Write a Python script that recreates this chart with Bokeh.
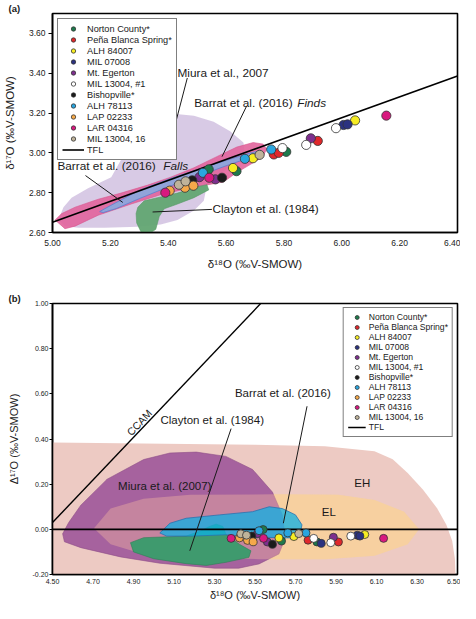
from bokeh.plotting import figure
from bokeh.models import (Range1d, FixedTicker, NumeralTickFormatter, Label,
                          Legend, LegendItem, Title)
from bokeh.layouts import column
from bokeh.embed import file_html
from bokeh.resources import INLINE

FONT = "Liberation Sans"

# ---------------- samples ----------------
sample_names = ["Norton County*", "Peña Blanca Spring*", "ALH 84007", "MIL 07008",
                "Mt. Egerton", "MIL 13004, #1", "Bishopville*", "ALH 78113",
                "LAP 02233", "LAR 04316", "MIL 13004, 16"]
sample_colors = ["#1e7a4c", "#e0282b", "#f6ec23", "#2b3280", "#7e2f8e", "#ffffff",
                 "#1b1b1b", "#2aa5de", "#f5a94a", "#d8197f", "#bfb39a"]

# ---------------- panel (a): d17O vs d18O ----------------
a_sample = [0, 0, 0, 1, 1, 1, 2, 2, 2, 3, 3, 4, 4, 4, 5, 5, 5, 6, 6,
            7, 7, 7, 8, 8, 8, 9, 9, 9, 10, 10, 10]
a_d18O = [5.540, 5.636, 5.808, 5.765, 5.782, 5.917, 5.624, 5.693, 6.046,
          6.006, 6.020, 5.508, 5.563, 5.893, 5.795, 5.877, 5.980, 5.483, 5.586,
          5.520, 5.665, 5.756, 5.405, 5.458, 5.487, 5.390, 5.542, 6.154,
          5.437, 5.460, 5.716]
a_d17O = [2.917, 2.908, 3.005, 2.992, 3.000, 3.060, 2.924, 2.973, 3.163,
          3.140, 3.143, 2.878, 2.867, 3.073, 3.024, 3.040, 3.124, 2.862, 2.875,
          2.900, 2.970, 3.017, 2.810, 2.825, 2.835, 2.800, 2.875, 3.187,
          2.840, 2.857, 2.990]
a_x_ticks = [5.0, 5.2, 5.4, 5.6, 5.8, 6.0, 6.2, 6.4]
a_y_ticks = [2.6, 2.8, 3.0, 3.2, 3.4, 3.6]
a_tfl_x = [5.0, 6.4]
a_tfl_y = [2.652, 3.386]

a_miura_x = [5.020, 5.038, 5.066, 5.123, 5.203, 5.237, 5.260, 5.295, 5.340, 5.410,
             5.489, 5.557, 5.614, 5.660, 5.665, 5.637, 5.568, 5.534, 5.523, 5.489,
             5.432, 5.374, 5.295, 5.180, 5.090, 5.043]
a_miura_y = [2.663, 2.727, 2.775, 2.822, 2.878, 2.965, 3.060, 3.140, 3.187, 3.198,
             3.187, 3.156, 3.108, 3.052, 2.997, 2.949, 2.886, 2.838, 2.759, 2.711,
             2.663, 2.640, 2.629, 2.624, 2.624, 2.632]
a_finds_x = [5.009, 5.043, 5.078, 5.158, 5.272, 5.374, 5.480, 5.591, 5.637, 5.683,
             5.728, 5.740, 5.728, 5.694, 5.637, 5.568, 5.489, 5.409, 5.329, 5.237,
             5.158, 5.078, 5.032]
a_finds_y = [2.663, 2.619, 2.632, 2.687, 2.743, 2.790, 2.825, 2.854, 2.901, 2.941,
             2.981, 3.020, 3.044, 3.052, 3.029, 2.981, 2.925, 2.878, 2.838, 2.798,
             2.767, 2.727, 2.695]
a_falls_x = [5.163, 5.200, 5.300, 5.410, 5.520, 5.600, 5.680, 5.720, 5.725, 5.680,
             5.600, 5.520, 5.410, 5.300, 5.220, 5.175]
a_falls_y = [2.705, 2.735, 2.812, 2.872, 2.925, 2.962, 2.998, 3.012, 3.000, 2.975,
             2.935, 2.892, 2.835, 2.770, 2.720, 2.700]
a_clayton_x = [5.295, 5.317, 5.363, 5.432, 5.500, 5.534, 5.540, 5.489, 5.432, 5.386,
               5.369, 5.357, 5.340, 5.306, 5.291, 5.289]
a_clayton_y = [2.727, 2.759, 2.775, 2.798, 2.830, 2.840, 2.814, 2.775, 2.743, 2.719,
               2.680, 2.616, 2.600, 2.603, 2.648, 2.695]

# ---------------- panel (b): D17O vs d18O ----------------
b_sample = [0, 0, 0, 1, 1, 2, 2, 2, 3, 3, 3, 4, 4, 4, 5, 5, 5, 6, 6,
            7, 7, 7, 8, 8, 8, 9, 9, 9, 10, 10, 10]
b_d18O = [5.540, 5.631, 5.806, 5.762, 5.912, 5.618, 5.692, 6.042,
          5.827, 6.005, 6.018, 5.512, 5.561, 5.887, 5.790, 5.874, 5.973, 5.484, 5.586,
          5.520, 5.662, 5.752, 5.423, 5.463, 5.491, 5.382, 5.542, 6.135,
          5.430, 5.458, 5.716]
b_D17O = [-0.001, -0.052, -0.056, -0.048, -0.056, -0.038, -0.032, -0.023,
          -0.062, -0.026, -0.030, -0.019, -0.056, -0.035, -0.040, -0.059, -0.030,
          -0.030, -0.066, -0.006, -0.016, -0.016, -0.038, -0.049, -0.055,
          -0.040, -0.040, -0.040, -0.020, -0.026, -0.019]
b_x_ticks = [4.5, 4.7, 4.9, 5.1, 5.3, 5.5, 5.7, 5.9, 6.1, 6.3, 6.5]
b_y_ticks = [-0.2, 0.0, 0.2, 0.4, 0.6, 0.8, 1.0]
b_tfl_x = [4.5, 6.5]
b_tfl_y = [0.0, 0.0]
b_ccam_x = [4.5, 5.528]
b_ccam_y = [0.03, 1.0]

b_eh_x = [4.50, 5.50, 5.845, 6.09, 6.18, 6.254, 6.33, 6.40, 6.445, 6.474, 6.487, 6.49, 4.50]
b_eh_y = [0.384, 0.375, 0.368, 0.346, 0.31, 0.25, 0.175, 0.092, 0.02, -0.052, -0.13, -0.2, -0.2]
b_el_x = [4.705, 4.787, 4.95, 5.18, 5.60, 5.91, 6.09, 6.236, 6.31, 6.254, 6.09, 5.845,
          5.52, 5.20, 4.95, 4.787]
b_el_y = [0.005, 0.092, 0.135, 0.153, 0.155, 0.153, 0.13, 0.078, 0.0, -0.066, -0.117,
          -0.132, -0.132, -0.125, -0.11, -0.066]
b_miura_x = [4.550, 4.580, 4.640, 4.770, 4.950, 5.080, 5.210, 5.356, 5.488, 5.586,
             5.635, 5.650, 5.618, 5.520, 5.420, 5.300, 5.030, 4.836, 4.640, 4.559]
b_miura_y = [-0.020, 0.030, 0.107, 0.222, 0.309, 0.338, 0.342, 0.323, 0.265, 0.165,
             0.064, -0.038, -0.109, -0.153, -0.172, -0.172, -0.150, -0.122, -0.081, -0.055]
b_clayton_x = [4.885, 4.950, 5.160, 5.227, 5.276, 5.308, 5.341, 5.357, 5.423, 5.480,
               5.470, 5.357, 5.260, 5.160, 4.999, 4.900]
b_clayton_y = [-0.059, -0.037, -0.030, -0.009, 0.013, 0.023, 0.013, -0.023, -0.066,
               -0.095, -0.124, -0.146, -0.160, -0.152, -0.130, -0.100]
b_barrat_x = [5.030, 5.080, 5.160, 5.325, 5.488, 5.570, 5.635, 5.700, 5.732, 5.724,
              5.683, 5.520, 5.357, 5.194, 5.064]
b_barrat_y = [-0.016, 0.027, 0.049, 0.064, 0.078, 0.100, 0.092, 0.064, 0.020, -0.016,
              -0.038, -0.035, -0.024, -0.030, -0.030]


def style(p, xticks, yticks, tick_size, title_size, tick_out, label_st, title_st_x, title_st_y):
    p.xgrid.visible = False
    p.ygrid.visible = False
    p.outline_line_color = "black"
    p.outline_line_width = 1.6
    p.background_fill_color = "white"
    p.border_fill_color = "white"
    for ax, ticks in ((p.xaxis[0], xticks), (p.yaxis[0], yticks)):
        ax.ticker = FixedTicker(ticks=ticks)
        ax.formatter = NumeralTickFormatter(format="0.00")
        ax.minor_tick_line_color = None
        ax.major_tick_in = 0
        ax.major_tick_out = tick_out
        ax.major_tick_line_color = "black"
        ax.axis_line_color = "black"
        ax.axis_line_width = 1.6
        ax.major_label_text_font = FONT
        ax.major_label_text_font_size = tick_size
        ax.major_label_text_color = "#222222"
        ax.major_label_standoff = label_st
        ax.axis_label_text_font = FONT
        ax.axis_label_text_font_size = title_size
        ax.axis_label_text_font_style = "normal"
        ax.axis_label_text_color = "#222222"
    # x axis: labels only, no visible tick marks
    p.xaxis[0].major_tick_out = 0
    p.xaxis[0].major_label_standoff = label_st + tick_out
    p.xaxis[0].axis_label_standoff = title_st_x
    p.yaxis[0].axis_label_standoff = title_st_y


def add_points(p, xs, ys, idx, radius):
    rends = []
    for i, name in enumerate(sample_names):
        sx = [x for x, k in zip(xs, idx) if k == i]
        sy = [y for y, k in zip(ys, idx) if k == i]
        r = p.circle(sx, sy, radius=radius, radius_units="screen",
                     fill_color=sample_colors[i], line_color="#333333", line_width=0.8)
        rends.append(r)
    return rends


def txt(p, x, y, s, size, style="normal", **kw):
    p.add_layout(Label(x=x, y=y, text=s, text_font=FONT, text_font_size=size,
                       text_font_style=style, text_baseline="middle",
                       text_color="#1a1a1a", **kw))


def make_legend(p, rends, tfl, loc, font_size, margin, gw, gh, pad):
    items = [LegendItem(label=n, renderers=[r]) for n, r in zip(sample_names, rends)]
    items.append(LegendItem(label="TFL", renderers=[tfl]))
    lg = Legend(items=items, location=loc, margin=margin, padding=pad, spacing=0,
                glyph_height=gh, glyph_width=gw, label_height=gh,
                label_standoff=3, label_text_font=FONT, label_text_font_size=font_size,
                label_text_color="#1a1a1a", border_line_color="black",
                border_line_width=1.8, background_fill_alpha=1.0,
                background_fill_color="white")
    p.add_layout(lg)


def panel_title(p, s):
    p.title = Title(text=s, align="left", offset=-44, standoff=0,
                    text_font=FONT, text_font_size="9.5px", text_font_style="bold",
                    text_color="#1a1a1a")


# ================= panel (a) =================
p1 = figure(width=460, height=290, x_range=Range1d(5.0, 6.4), y_range=Range1d(2.6, 3.7),
            output_backend="svg", toolbar_location=None,
            min_border_left=46, min_border_right=3, min_border_top=0, min_border_bottom=58,
            x_axis_label="δ¹⁸O (‰V-SMOW)", y_axis_label="δ¹⁷O (‰V-SMOW)")
style(p1, a_x_ticks, a_y_ticks, "8.5px", "11.5px", 4, 3, 9, 10)
panel_title(p1, "(a)")

p1.patch(a_miura_x, a_miura_y, fill_color="#d6c7e4", fill_alpha=0.95, line_color=None)
p1.patch(a_finds_x, a_finds_y, fill_color="#e2649c", fill_alpha=0.9, line_color="#d9588f",
         line_width=0.6)
p1.patch(a_falls_x, a_falls_y, fill_color="#8aa8de", fill_alpha=0.92, line_color="#5b7fcf",
         line_width=0.8)
p1.patch(a_clayton_x, a_clayton_y, fill_color="#62a572", fill_alpha=0.95, line_color="#579a66",
         line_width=0.6)
tfl1 = p1.line(a_tfl_x, a_tfl_y, line_color="black", line_width=1.6)
r1 = add_points(p1, a_d18O, a_d17O, a_sample, 4.6)

# leader lines
p1.segment(x0=[5.466, 5.671, 5.114, 5.346], y0=[3.376, 3.235, 2.886, 2.703],
           x1=[5.425, 5.586, 5.243, 5.551], y1=[3.148, 2.981, 2.751, 2.716],
           line_color="#1a1a1a", line_width=1)
txt(p1, 5.432, 3.400, "Miura et al., 2007", "11.8px")
txt(p1, 5.490, 3.251, "Barrat et al. (2016)", "11.8px")
txt(p1, 5.846, 3.251, "Finds", "11.8px", "italic")
txt(p1, 5.017, 2.935, "Barrat et al. (2016)", "11.8px")
txt(p1, 5.383, 2.935, "Falls", "11.8px", "italic")
txt(p1, 5.553, 2.716, "Clayton et al. (1984)", "11.8px")
make_legend(p1, r1, tfl1, "top_left", "9.2px", 5, 22, 11, 4)

# ================= panel (b) =================
p2 = figure(width=460, height=313, x_range=Range1d(4.5, 6.5), y_range=Range1d(-0.2, 1.0),
            output_backend="svg", toolbar_location=None,
            min_border_left=50, min_border_right=1, min_border_top=0, min_border_bottom=27,
            x_axis_label="δ¹⁸O (‰V-SMOW)", y_axis_label="Δ¹⁷O (‰V-SMOW)")
style(p2, b_x_ticks, b_y_ticks, "7px", "11px", 3, 1, 2, 10)
panel_title(p2, "(b)")

p2.patch(b_eh_x, b_eh_y, fill_color="#edcac3", fill_alpha=1.0, line_color=None)
p2.patch(b_el_x, b_el_y, fill_color="#f3d6a0", fill_alpha=1.0, line_color=None)
p2.patch(b_miura_x, b_miura_y, fill_color="#a6629e", fill_alpha=1.0, line_color="#8e4f88",
         line_width=0.6)
p2.patch(b_el_x, b_el_y, fill_color="#ffc7a0", fill_alpha=0.35, line_color=None)
p2.patch(b_clayton_x, b_clayton_y, fill_color="#3f9a6e", fill_alpha=1.0, line_color="#2f7f58",
         line_width=0.6)
p2.patch(b_barrat_x, b_barrat_y, fill_color="#0cb0e4", fill_alpha=0.75, line_color="#2a72b0",
         line_width=0.8)
ccam = p2.line(b_ccam_x, b_ccam_y, line_color="black", line_width=1.4)
tfl2 = p2.line(b_tfl_x, b_tfl_y, line_color="black", line_width=1.6)
r2 = add_points(p2, b_d18O, b_D17O, b_sample, 4.0)

p2.segment(x0=[5.382, 5.757], y0=[0.446, 0.545], x1=[5.178, 5.640], y1=[-0.095, 0.027],
           line_color="#1a1a1a", line_width=1)
txt(p2, 4.824, 0.190, "Miura et al. (2007)", "11.5px")
txt(p2, 5.033, 0.485, "Clayton et al. (1984)", "11.5px")
txt(p2, 5.401, 0.602, "Barrat et al. (2016)", "11.5px")
txt(p2, 5.990, 0.205, "EH", "11.5px")
txt(p2, 5.830, 0.075, "EL", "11.5px")
p2.add_layout(Label(x=4.95, y=0.455, text="CCAM", angle=46.8, angle_units="deg",
                    text_font=FONT, text_font_size="10.5px", text_align="center",
                    text_baseline="bottom", text_color="#1a1a1a"))
make_legend(p2, r2, tfl2, "top_right", "8.6px", 4, 18, 10, 4)

layout = column(p1, p2, spacing=0)
open("out.html", "w").write(file_html(layout, INLINE))
